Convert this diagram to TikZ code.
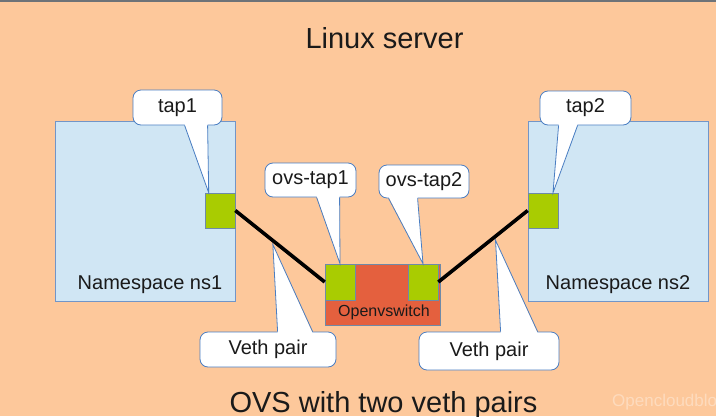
\documentclass[tikz,border=0pt]{standalone}
\usepackage{fontspec}
\setmainfont{Liberation Sans}
\usetikzlibrary{calc}
\definecolor{bgpeach}{HTML}{FDC89B}
\definecolor{nsfill}{HTML}{D0E6F4}
\definecolor{nsborder}{HTML}{7295C7}
\definecolor{portgreen}{HTML}{A9CC01}
\definecolor{portborder}{HTML}{6E8AA8}
\definecolor{switchred}{HTML}{E4603E}
\definecolor{calloutblue}{HTML}{4A7EC2}
\definecolor{textdark}{HTML}{1A1A1A}
\definecolor{topgray}{HTML}{6E7378}
\newcommand\fs[1]{\fontsize{#1}{#1}\selectfont}
\newcommand\calloutptr[4]{%
  \fill[white] ($(#1)+(0,#4)$) -- (#3) -- ($(#2)+(0,#4)$) -- cycle;
  \draw[ptrline] (#1) -- (#3) -- (#2);}
\begin{document}
\begin{tikzpicture}[x=1pt,y=-1pt,
  nsbox/.style={draw=nsborder, fill=nsfill, line width=0.8pt, minimum width=180pt, minimum height=180pt, inner sep=0pt},
  portbox/.style={draw=portborder, fill=portgreen, line width=0.6pt, inner sep=0pt},
  switchbox/.style={draw=portborder, fill=switchred, line width=0.8pt, minimum width=115pt, minimum height=61pt, inner sep=0pt},
  callout/.style={draw=calloutblue, fill=white, rounded corners=8pt, line width=0.8pt, font=\fs{20}, text=textdark, inner sep=0pt},
  ptrline/.style={draw=calloutblue, line width=0.8pt, line join=miter},
  vethline/.style={draw=black, line width=3.6pt},
  lbl/.style={font=\fs{20}, text=textdark, inner sep=0pt},
  title/.style={font=\fs{29}, text=textdark, inner sep=0pt, anchor=base}]
\useasboundingbox (0,0) rectangle (716,416);
\clip (0,0) rectangle (716,416);
\fill[bgpeach] (0,0) rectangle (716,416);
\fill[topgray] (0,0) rectangle (716,1.6);

% titles
\node[title] (title) at (384.5,48) {Linux server};
\node[title] (subtitle) at (383.5,412) {OVS with two veth pairs};
\node[font=\fs{17}, text=white, opacity=0.35, anchor=base west, inner sep=0pt] (wm) at (612,406) {Opencloudblog};

% namespaces
\node[nsbox] (ns1) at (145,211) {};
\node[nsbox] (ns2) at (618,211) {};
\node[lbl, anchor=base] (ns1txt) at (150,289) {Namespace ns1};
\node[lbl, anchor=base] (ns2txt) at (618,289) {Namespace ns2};

% switch
\node[switchbox] (ovs) at (382.5,294.5) {};
\node[font=\fs{16}, text=textdark, inner sep=0pt, anchor=base] (ovstxt) at (384,316) {Openvswitch};

% ports
\node[portbox, minimum width=30pt, minimum height=35pt] (tap1) at (220,210.5) {};
\node[portbox, minimum width=30pt, minimum height=35pt] (tap2) at (543,210.5) {};
\node[portbox, minimum width=30pt, minimum height=36pt] (ovstap1) at (340,282) {};
\node[portbox, minimum width=30pt, minimum height=36pt] (ovstap2) at (423,282) {};

% callouts
\node[callout, minimum width=89pt, minimum height=35pt] (c1) at (177.5,107.5) {tap1};
\coordinate (c1a) at ($(c1.south west)+(52,0)$);
\coordinate (c1b) at ($(c1.south west)+(75,0)$);
\coordinate (c1t) at ($(tap1.north west)+(4,0)$);
\calloutptr{c1a}{c1b}{c1t}{-1.5}

\node[callout, minimum width=91pt, minimum height=34pt] (c2) at (585.5,108) {tap2};
\coordinate (c2a) at ($(c2.south west)+(19,0)$);
\coordinate (c2b) at ($(c2.south west)+(38,0)$);
\coordinate (c2t) at ($(tap2.north)+(10,0)$);
\calloutptr{c2a}{c2b}{c2t}{-1.5}

\node[callout, minimum width=91pt, minimum height=34pt] (c3) at (310.5,180) {ovs-tap1};
\coordinate (c3a) at ($(c3.south west)+(52,0)$);
\coordinate (c3b) at ($(c3.south west)+(75,0)$);
\coordinate (c3t) at (ovstap1.north);
\calloutptr{c3a}{c3b}{c3t}{-1.5}

\node[callout, minimum width=90pt, minimum height=33pt] (c4) at (424,181.5) {ovs-tap2};
\coordinate (c4a) at ($(c4.south west)+(10,0)$);
\coordinate (c4b) at ($(c4.south west)+(39,0)$);
\coordinate (c4t) at (ovstap2.north);
\calloutptr{c4a}{c4b}{c4t}{-1.5}

\node[callout, minimum width=136pt, minimum height=35pt] (c5) at (268,349.5) {Veth pair};
\coordinate (c5a) at ($(c5.north west)+(78,0)$);
\coordinate (c5b) at ($(c5.north west)+(113,0)$);
\coordinate (c5t) at ($(tap1.east)!0.42!(ovstap1.west)+(0,4)$);
\calloutptr{c5a}{c5b}{c5t}{1.5}

\node[callout, minimum width=140pt, minimum height=38pt] (c6) at (489,351) {Veth pair};
\coordinate (c6a) at ($(c6.north west)+(82,0)$);
\coordinate (c6b) at ($(c6.north west)+(119,0)$);
\coordinate (c6t) at ($(ovstap2.east)!0.64!(tap2.west)+(0,4)$);
\calloutptr{c6a}{c6b}{c6t}{1.5}

% veth connections
\draw[vethline] (tap1.east) -- (ovstap1.west);
\draw[vethline] (ovstap2.east) -- (tap2.west);
\end{tikzpicture}
\end{document}
